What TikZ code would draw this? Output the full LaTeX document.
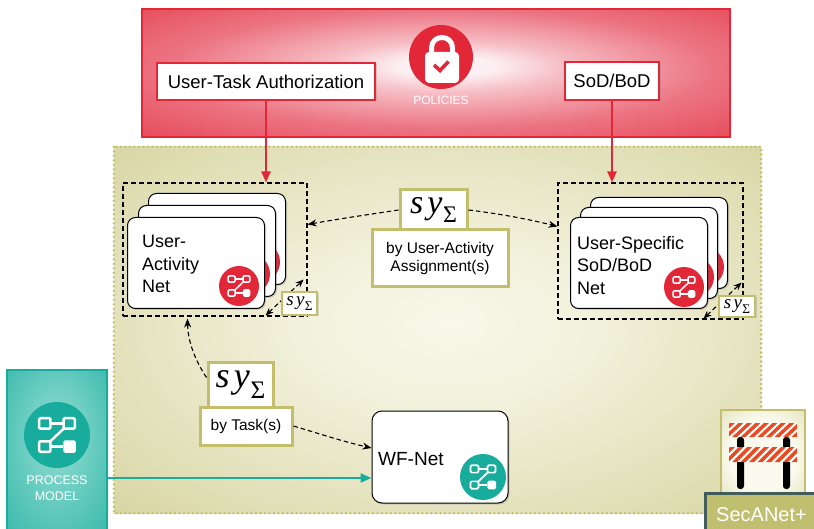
\RequirePackage{fix-cm}
\documentclass[tikz,border=0pt]{standalone}
\usepackage{fontspec}
\setmainfont{Liberation Sans}
\newfontfamily\syfont{Liberation Serif}
\usetikzlibrary{shadows,arrows.meta,calc}

\definecolor{polred}{RGB}{226,40,56}
\definecolor{polmid}{RGB}{236,116,130}
\definecolor{polsoft}{RGB}{246,190,197}
\definecolor{polpink}{RGB}{252,240,242}
\definecolor{olivedark}{RGB}{197,196,128}
\definecolor{olivemid}{RGB}{223,221,178}
\definecolor{olivesoft}{RGB}{243,242,222}
\definecolor{olivelight}{RGB}{248,247,234}
\definecolor{oliveline}{RGB}{194,190,108}
\definecolor{olivebox}{RGB}{192,191,112}
\definecolor{tealc}{RGB}{24,172,156}
\definecolor{teallight}{RGB}{150,222,212}
\definecolor{slate}{RGB}{66,92,92}
\definecolor{barorange}{RGB}{232,74,36}
\definecolor{inklight}{RGB}{250,250,238}
\definecolor{inkdark}{RGB}{208,207,150}

\pgfdeclareradialshading{polshade}{\pgfpoint{1bp}{3bp}}{color(0bp)=(polpink); color(4bp)=(polpink); color(10bp)=(polsoft); color(23bp)=(polmid); color(48bp)=(polred); color(50bp)=(polred)}
\pgfdeclareradialshading{oliveshade}{\pgfpoint{1bp}{1bp}}{color(0bp)=(olivelight); color(10bp)=(olivesoft); color(30bp)=(olivemid); color(50bp)=(olivedark)}
\pgfdeclareradialshading{tealshade}{\pgfpoint{0bp}{6bp}}{color(0bp)=(teallight); color(50bp)=(tealc)}
\pgfdeclareradialshading{iconshade}{\pgfpoint{0bp}{0bp}}{color(0bp)=(inklight); color(20bp)=(inklight); color(50bp)=(inkdark)}

% synchronisation symbol, #1 = size in pt
\newcommand\sysym[1]{{\syfont\fontsize{#1}{#1}\selectfont\itshape s\kern0.12em y\kern0.02em\raisebox{-0.28em}{\upshape\fontsize{0.7\dimexpr#1pt\relax}{1}\selectfont Σ}}}

% white flow-chart glyph on a round badge: #1 badge node, #2 badge radius
\newcommand\flowglyph[2]{%
  \begin{scope}[shift={(#1.center)}, scale=#2/10, white, line width=#2*0.075pt]
    \draw[rounded corners=1.2pt] (-5.4,-5.1) rectangle (-2.0,-1.9);
    \draw[rounded corners=1.2pt] (2.0,-5.1) rectangle (5.4,-1.9);
    \draw[rounded corners=1.2pt] (-5.4,1.9) rectangle (-2.0,5.1);
    \fill[rounded corners=1.6pt] (1.9,1.6) rectangle (5.7,5.4);
    \draw (-2.0,-3.5) -- (2.0,-3.5);
    \draw (2.0,-1.9) -- (-2.0,1.9);
    \draw (-2.0,3.5) -- (1.9,3.5);
  \end{scope}}

\tikzset{
  softshadow/.style={drop shadow={opacity=0.28, shadow xshift=1.5pt, shadow yshift=-1.5pt}},
  policylabel/.style={draw=polred, line width=2pt, fill=white, softshadow, inner sep=0pt,
    font=\fontsize{18.5}{22}\selectfont},
  card/.style={draw=black, line width=1pt, fill=white, rounded corners=8pt, anchor=north west,
    minimum width=137pt, minimum height=91pt, inner sep=0pt, softshadow},
  cardtext/.style={anchor=north west, align=left, inner sep=0pt, font=\fontsize{18}{22.5}\selectfont},
  badge/.style={circle, inner sep=0pt, minimum size=40pt},
  groupbox/.style={draw=black, line width=1.1pt, dash pattern=on 5pt off 3pt, inner sep=0pt},
  sybox/.style={draw=oliveline, line width=3pt, fill=white, inner sep=0pt, softshadow},
  capbox/.style={draw=oliveline, line width=3pt, fill=white, inner sep=0pt, softshadow, align=center,
    font=\fontsize{15.5}{18.5}\selectfont},
  dasharrow/.style={draw=black, line width=1.1pt, dash pattern=on 4.5pt off 3pt,
    -{Stealth[length=9pt,width=7pt]}},
  dashboth/.style={draw=black, line width=1.1pt, dash pattern=on 4.5pt off 3pt,
    {Stealth[length=8pt,width=6.5pt]}-{Stealth[length=8pt,width=6.5pt]}},
  redarrow/.style={draw=polred, line width=2.4pt, -{Triangle[length=11pt,width=9pt]}},
  tealarrow/.style={draw=tealc, line width=2.4pt, -{Triangle[length=11pt,width=9pt]}},
}

\begin{document}
\begin{tikzpicture}[x=1pt, y=-1pt]
\useasboundingbox (0,0) rectangle (814,529);

% ---------------- policies band ----------------
\node[shade, shading=polshade, draw=polred, line width=2pt, minimum width=588pt, minimum height=128pt,
  inner sep=0pt] (policies) at (436,73) {};
\node[badge, fill=polred, minimum size=64pt] (lock) at (441,57) {};
\fill[white, rounded corners=4pt] (425,52) rectangle (459,83);
\draw[white, line width=5pt] (431.5,54) -- (431.5,48) .. controls (431.5,34) and (452.5,34) .. (452.5,48) -- (452.5,54);
\draw[polred, line width=3.6pt] (434,65) -- (440,70.5) -- (448.5,61.5);
\node[text=white, font=\fontsize{12}{14}\selectfont, inner sep=0pt] (policiestxt) at (441,100) {POLICIES};

\node[policylabel, minimum width=218pt, minimum height=37pt] (uta) at (266,81.5) {User-Task Authorization};
\node[policylabel, minimum width=94pt, minimum height=38pt] (sod) at (612,81) {SoD/BoD};

% ---------------- security area ----------------
\node[shade, shading=oliveshade, minimum width=647pt, minimum height=366pt, inner sep=0pt] (area) at (437.5,330) {};
\draw[oliveline, line width=2.6pt, dash pattern=on 0pt off 4.5pt, line cap=round]
  (area.north west) rectangle (area.south east);

% ---------------- net groups ----------------
\node[groupbox, minimum width=184pt, minimum height=133pt] (lgroup) at (215,249.5) {};
\node[groupbox, minimum width=185pt, minimum height=136pt] (rgroup) at (650.5,251) {};

\draw[redarrow] (uta.south) -- (uta.south |- lgroup.north);
\draw[redarrow] (sod.south) -- (sod.south |- rgroup.north);

% user-activity nets (stack of three)
\node[card] (la3) at (148,193) {};
\node[badge, fill=polred] (la3b) at ($(la3.south east)+(-26,-23)$) {};
\node[card] (la2) at (138,205) {};
\node[badge, fill=polred] (la2b) at ($(la2.south east)+(-26,-23)$) {};
\node[card] (la1) at (127,217) {};
\node[badge, fill=polred] (la1b) at ($(la1.south east)+(-26,-23)$) {};
\flowglyph{la1b}{20}
\node[cardtext] (latxt) at ($(la1.north west)+(15,18)$) {User-\\Activity\\Net};

% user-specific SoD/BoD nets (stack of three)
\node[card] (ra3) at (590,197) {};
\node[badge, fill=polred] (ra3b) at ($(ra3.south east)+(-24,-22)$) {};
\node[card] (ra2) at (580,207) {};
\node[badge, fill=polred] (ra2b) at ($(ra2.south east)+(-24,-22)$) {};
\node[card] (ra1) at (570,217) {};
\node[badge, fill=polred] (ra1b) at ($(ra1.south east)+(-24,-22)$) {};
\flowglyph{ra1b}{20}
\node[cardtext] (ratxt) at ($(ra1.north west)+(7,19)$) {User-Specific\\SoD/BoD\\Net};

% synchronisation by user-activity assignment
\node[capbox, minimum width=136pt, minimum height=57pt] (assign) at (440,258.5) {by User-Activity\\Assignment(s)};
\node[sybox, minimum width=67pt, minimum height=40pt] (topsy) at (433.5,210) {\sysym{34}};

\draw[dasharrow] (topsy.west) .. controls (372,214) and (338,219) .. ($(lgroup.north east)+(0,42)$);
\draw[dasharrow] (topsy.east) .. controls (495,213) and (528,219) .. ($(rgroup.north west)+(0,44)$);

% inner synchronisation of each stack
\draw[dashboth] ($(lgroup.south east)+(-42,-1)$) -- ($(lgroup.south east)+(-4,-37)$);
\node[sybox, line width=2.2pt, minimum width=35pt, minimum height=23pt] (lsy) at (299.5,303.5) {\sysym{19}};
\draw[dashboth] ($(rgroup.south east)+(-40,-1)$) -- ($(rgroup.south east)+(-2,-37)$);
\node[sybox, line width=2.2pt, minimum width=36pt, minimum height=21pt] (rsy) at (737,306.5) {\sysym{19}};

% workflow net
\node[draw=black, line width=1pt, fill=white, rounded corners=10pt, minimum width=136pt, minimum height=92pt,
  inner sep=0pt, softshadow] (wf) at (440,457) {};
\node[anchor=base west, inner sep=0pt, font=\fontsize{19}{22}\selectfont] (wftxt) at (378,465) {WF-Net};
\node[badge, fill=tealc, minimum size=46pt] (wfb) at (483,477) {};
\flowglyph{wfb}{23}

% synchronisation by task
\node[capbox, minimum width=92pt, minimum height=38pt] (bytask) at (246,426) {by Task(s)};
\node[sybox, minimum width=65pt, minimum height=45pt] (bsy) at (240.5,384.5) {\sysym{36}};

\draw[dasharrow] ($(bsy.west)+(0,-7)$) .. controls (195,360) and (188,342) .. ($(lgroup.south west)+(65,2)$);
\draw[dasharrow] (bytask.east) .. controls (320,434) and (345,442) .. ($(wf.west)+(0,-9)$);

% process model
\node[shade, shading=tealshade, draw=tealc, line width=2pt, minimum width=100pt, minimum height=166pt,
  inner sep=0pt] (proc) at (57,453) {};
\node[badge, fill=tealc, minimum size=66pt] (procb) at (57,435) {};
\flowglyph{procb}{33}
\node[text=white, align=center, font=\fontsize{12.5}{16}\selectfont, inner sep=0pt] (proctxt) at (57,488) {PROCESS\\MODEL};
\coordinate (wfin) at ($(wf.west)+(0,21)$);
\draw[tealarrow] (proc.east |- wfin) -- (wfin);

% SecANet+ badge
\node[shade, shading=iconshade, draw=oliveline, line width=2.5pt, minimum width=84pt, minimum height=90pt,
  inner sep=0pt] (secicon) at (763,455) {};
\fill[black, rounded corners=3pt] (737,437) rectangle (744,489);
\fill[black, rounded corners=3pt] (783,437) rectangle (790,489);
\foreach \ya/\yb in {423/437, 447/462} {
  \fill[white] (729,\ya) rectangle (797,\yb);
  \begin{scope}
    \clip (729,\ya) rectangle (797,\yb);
    \foreach \i in {0,...,11} {
      \fill[barorange] (715+8.5*\i,\yb) -- (720+8.5*\i,\yb) -- (735+8.5*\i,\ya) -- (730+8.5*\i,\ya) -- cycle;
    }
  \end{scope}
}
\node[fill=olivebox, draw=slate, line width=3pt, minimum width=113pt, minimum height=40pt, inner sep=0pt,
  text=white, font=\fontsize{20}{22}\selectfont, text depth=0pt] (seclabel) at (761.5,513) {\raisebox{-3pt}{SecANet+}};
\end{tikzpicture}
\end{document}
